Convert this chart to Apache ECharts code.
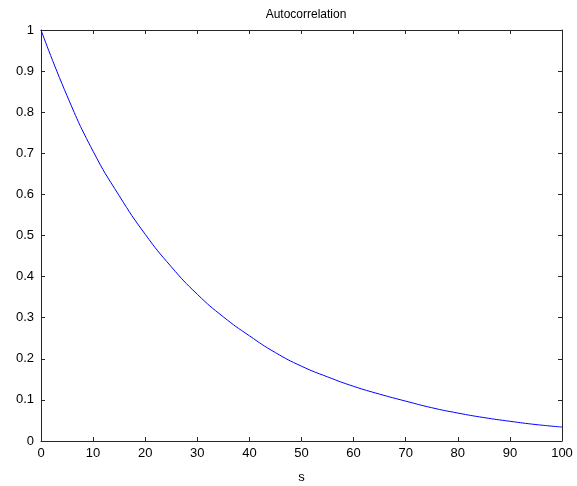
<!DOCTYPE html>
<html>
<head>
<meta charset="utf-8">
<script src="https://cdn.jsdelivr.net/npm/echarts@6/dist/echarts.min.js"></script>
<style>html,body{margin:0;padding:0;background:#fff}#c{width:577px;height:486px}</style>
</head>
<body>
<div id="c"></div>
<script>
var lags = [0, 5, 10, 15, 20, 25, 30, 35, 40, 45, 50, 55, 60, 65, 70, 75, 80, 85, 90, 95, 100];
var acf = [1.0, 0.84, 0.705, 0.597, 0.503, 0.424, 0.357, 0.302, 0.256, 0.215, 0.182, 0.156, 0.133, 0.114, 0.097, 0.081, 0.068, 0.057, 0.048, 0.040, 0.034];
var xTicks = [0, 10, 20, 30, 40, 50, 60, 70, 80, 90, 100];
var yTicks = ['0', '0.1', '0.2', '0.3', '0.4', '0.5', '0.6', '0.7', '0.8', '0.9', '1'];

var font = 'Liberation Sans, Arial, sans-serif';
var axisCol = '#262626';
var chart = echarts.init(document.getElementById('c'));
var tickStyle = {show: true, inside: true, length: 4, lineStyle: {color: axisCol, width: 1}};
chart.setOption({
  animation: false,
  title: {text: 'Autocorrelation', left: 301, top: 4, textAlign: 'center',
    textStyle: {fontFamily: font, fontSize: 12, fontWeight: 'normal', color: '#000'}},
  grid: {left: 41, right: 15, top: 30, bottom: 45, show: false, containLabel: false, outerBoundsMode: 'none'},
  xAxis: [{
    type: 'value', min: 0, max: 100, interval: 10,
    name: 's', nameLocation: 'middle', nameGap: 30,
    nameTextStyle: {fontFamily: font, fontSize: 13, color: '#000'},
    axisLine: {show: true, onZero: false, lineStyle: {color: axisCol, width: 1}},
    axisTick: tickStyle,
    axisLabel: {fontFamily: font, fontSize: 13, color: '#000', margin: 6,
      formatter: function (v) { return xTicks.indexOf(v) >= 0 ? String(v) : ''; }},
    splitLine: {show: false}
  }, {
    type: 'value', position: 'top', min: 0, max: 100, interval: 10,
    axisLine: {show: true, onZero: false, lineStyle: {color: axisCol, width: 1}},
    axisTick: tickStyle, axisLabel: {show: false}, splitLine: {show: false}
  }],
  yAxis: [{
    type: 'value', min: 0, max: 1, interval: 0.1,
    axisLine: {show: true, onZero: false, lineStyle: {color: axisCol, width: 1}},
    axisTick: tickStyle,
    axisLabel: {fontFamily: font, fontSize: 13, color: '#000', margin: 7,
      formatter: function (v) { return yTicks[Math.round(v * 10)] || ''; }},
    splitLine: {show: false}
  }, {
    type: 'value', position: 'right', min: 0, max: 1, interval: 0.1,
    axisLine: {show: true, onZero: false, lineStyle: {color: axisCol, width: 1}},
    axisTick: tickStyle, axisLabel: {show: false}, splitLine: {show: false}
  }],
  series: [{
    type: 'line', xAxisIndex: 0, yAxisIndex: 0,
    data: lags.map(function (s, i) { return [s, acf[i]]; }),
    smooth: true, symbol: 'none',
    lineStyle: {color: '#0000ff', width: 1}
  }]
});
</script>
</body>
</html>
